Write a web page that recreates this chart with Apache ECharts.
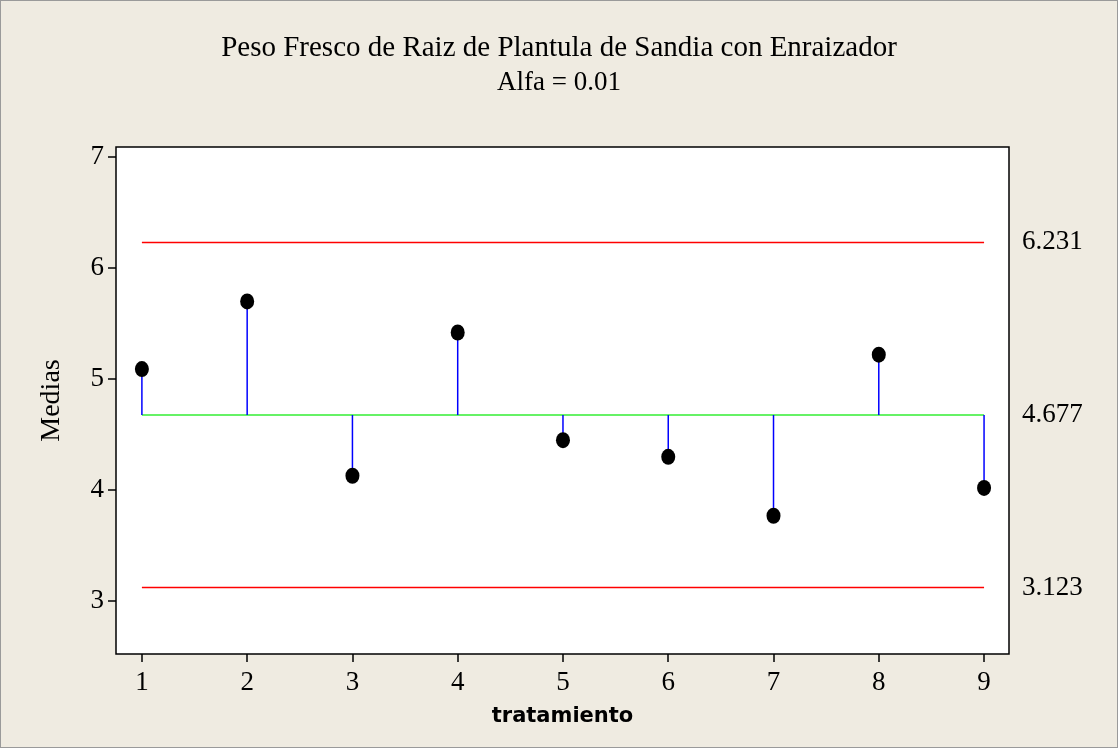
<!DOCTYPE html>
<html><head><meta charset="utf-8">
<script src="https://cdn.jsdelivr.net/npm/echarts@6/dist/echarts.min.js"></script>
<style>html,body{margin:0;padding:0;background:#EFEBE1}#c{width:1118px;height:748px;box-sizing:border-box;border:1px solid #9a9a9a}</style>
</head><body><div id="c"></div>
<script>
const treatments = [1,2,3,4,5,6,7,8,9];
const means = [5.09,5.70,4.13,5.42,4.45,4.30,3.77,5.22,4.02];
const centerLine = 4.677;
const upperLimit = 6.231;
const lowerLimit = 3.123;
const yTicks = [3,4,5,6,7];
const titleText = 'Peso Fresco de Raiz de Plantula de Sandia con Enraizador';
const subtitleText = 'Alfa = 0.01';

const serif = '"Liberation Serif", "Times New Roman", serif';
const chart = echarts.init(document.getElementById('c'), null, {renderer:'canvas'});
const pts = treatments.map((t,i)=>[t, means[i]]);
function limitLine(v, color){
  return {
    type:'line', data:[[treatments[0],v],[treatments[treatments.length-1],v]],
    symbol:'none', lineStyle:{color:color,width:1.5}, silent:true, z:2,
    endLabel:{show:true, formatter:()=>v.toFixed(3), fontFamily:serif, fontSize:27, color:'#000', distance:38}
  };
}
chart.setOption({
  backgroundColor:'#EFEBE1',
  animation:false,
  title:{text:titleText, subtext:subtitleText, left:'center', top:28, itemGap:6,
    textStyle:{fontFamily:serif, fontSize:29, fontWeight:'normal', color:'#000'},
    subtextStyle:{fontFamily:serif, fontSize:27, color:'#000'}},
  grid:{left:115, right:108, top:146, bottom:93, show:true, backgroundColor:'#fff', borderColor:'#000', borderWidth:1.5},
  xAxis:{type:'value', min:0.754, max:9.237, interval:1,
    axisLine:{show:false},
    axisTick:{show:true, length:8, lineStyle:{color:'#000',width:1.5}, customValues:treatments},
    axisLabel:{customValues:treatments, fontFamily:serif, fontSize:27, color:'#000', margin:15},
    splitLine:{show:false},
    name:'tratamiento', nameLocation:'middle', nameGap:52,
    nameTextStyle:{fontFamily:'"DejaVu Sans", sans-serif', fontWeight:'bold', fontSize:21, color:'#000'}},
  yAxis:{type:'value', min:2.525, max:7.09,
    axisLine:{show:false},
    axisTick:{show:true, length:8, lineStyle:{color:'#000',width:1.5}, customValues:yTicks},
    axisLabel:{customValues:yTicks, fontFamily:serif, fontSize:27, color:'#000', margin:12},
    splitLine:{show:false},
    name:'Medias', nameLocation:'middle', nameGap:50,
    nameTextStyle:{fontFamily:serif, fontSize:28, color:'#000'}},
  series:[
    limitLine(upperLimit,'#FF0000'),
    limitLine(lowerLimit,'#FF0000'),
    limitLine(centerLine,'#33EE33'),
    {type:'custom', data:pts, z:3, silent:true,
      renderItem:(params, api)=>{
        const a = api.coord([api.value(0), centerLine]);
        const b = api.coord([api.value(0), api.value(1)]);
        return {type:'line', shape:{x1:a[0],y1:a[1],x2:b[0],y2:b[1]}, style:{stroke:'#0000FF', lineWidth:1.5}};
      }},
    {type:'scatter', data:pts, symbol:'circle', symbolSize:[14,16], itemStyle:{color:'#000', opacity:1}, z:5, silent:true}
  ]
});
</script></body></html>
